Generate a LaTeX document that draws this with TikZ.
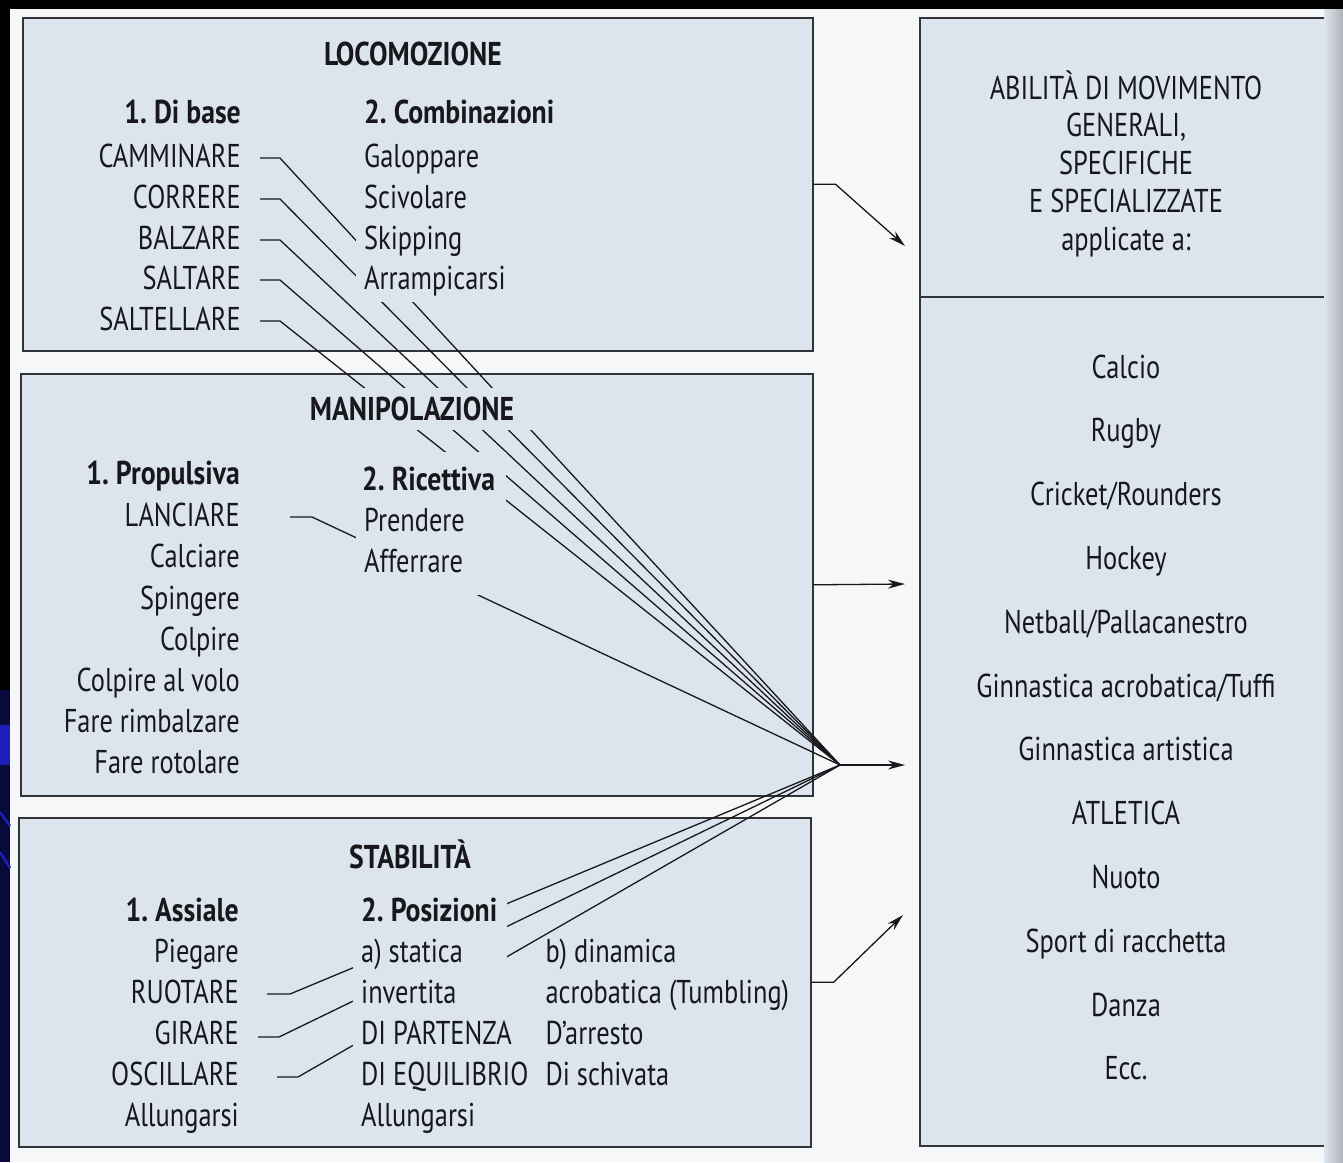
\documentclass[tikz,border=0pt]{standalone}
\usepackage{fontspec}
\setmainfont{PT Sans}[FakeStretch=0.8, BoldFeatures={FakeStretch=0.84}]
\usetikzlibrary{arrows.meta,calc}
\definecolor{pagewhite}{RGB}{246,247,248}
\definecolor{boxfill}{RGB}{220,229,238}
\definecolor{edge}{RGB}{50,52,56}
\definecolor{ink}{RGB}{24,24,28}
\definecolor{navy}{RGB}{8,10,60}
\definecolor{slideblue}{RGB}{28,30,185}
\definecolor{scanshade}{RGB}{175,178,182}
\pgfdeclarelayer{base}
\pgfdeclarelayer{wires}
\pgfsetlayers{base,wires,main}
% fixed-width, left-aligned label box (no line breaking)
\newcommand\fixw[2]{\makebox[#1][l]{#2}}

\begin{document}
\frenchspacing
\begin{tikzpicture}[x=1pt,y=-1pt,
  txt/.style={font=\fontsize{33}{38}\selectfont, text=ink},
  lbl/.style={txt, fill=boxfill, inner xsep=8pt, inner ysep=3pt, text height=27pt, text depth=10pt},
  head/.style={lbl, font=\fontsize{33}{38}\selectfont\bfseries},
  frame/.style={draw=edge, line width=1.6pt, fill=boxfill, inner sep=0pt, anchor=north west},
  wire/.style={draw=ink, line width=1.3pt},
  arr/.style={wire, -{Stealth[length=17pt,width=9pt]}},
  listitem/.style={txt, anchor=base}]
\useasboundingbox (0,0) rectangle (1343,1162);

% page, slide edges and the three group frames
\begin{pgfonlayer}{base}
  \fill[black] (0,0) rectangle (1343,1162);
  \fill[pagewhite] (10,9) rectangle (1343,1162);
  \fill[navy] (0,690) rectangle (10,1162);
  \fill[slideblue] (0,725) rectangle (10,765);
  \draw[slideblue, line width=2.5pt] (0,812) -- (10,826);
  \draw[slideblue, line width=2.5pt] (0,852) -- (10,868);
  \node[frame, minimum width=790pt, minimum height=333pt] (locobox) at (22,17) {};
  \node[frame, minimum width=792pt, minimum height=422pt] (manbox) at (20,373) {};
  \node[frame, minimum width=792pt, minimum height=329pt] (stabbox) at (18,817) {};
  % application panel
  \fill[boxfill] (920,18) rectangle (1330,1146);
  \draw[edge, line width=1.6pt] (1330,18) -- (920,18) -- (920,1146) -- (1330,1146);
  \draw[edge, line width=1.6pt] (920,297) -- (1330,297);
  \shade[left color=boxfill, right color=scanshade] (1324,9) rectangle (1343,1162);
\end{pgfonlayer}

\coordinate (hub) at (840,765);
\coordinate (tipA) at (905,246);
\coordinate (tipB) at (905,584);
\coordinate (tipC) at (905,765);
\coordinate (tipD) at (903,915);

% ---------- LOCOMOZIONE ----------
\node[head, anchor=base] (locotit) at (413,65) {LOCOMOZIONE};
\node[head, anchor=base east] (dibase) at (249,123) {1. Di base};
\node[head, anchor=base west] (comb) at (356,123) {2. Combinazioni};
\node[lbl, anchor=base east] (camm) at (249,167) {CAMMINARE};
\node[lbl, anchor=base east] (corr) at (249,208) {CORRERE};
\node[lbl, anchor=base east] (balz) at (249,249) {BALZARE};
\node[lbl, anchor=base east] (salt) at (249,289) {SALTARE};
\node[lbl, anchor=base east] (saltel) at (249,330) {SALTELLARE};
\node[lbl, anchor=base west] (galop) at (356,167) {Galoppare};
\node[lbl, anchor=base west] (sciv) at (356,208) {Scivolare};
\node[lbl, anchor=base west] (skip) at (356,249) {Skipping};
\node[lbl, anchor=base west] (arram) at (356,289) {Arrampicarsi};

% ---------- MANIPOLAZIONE ----------
\node[head, anchor=base, minimum width=240pt, text height=22pt, text depth=0pt, inner ysep=10pt] (maniptit) at (412,420) {MANIPOLAZIONE};
\node[head, anchor=base east] (propul) at (248,484) {1. Propulsiva};
\node[head, anchor=base west, text height=35pt] (ricett) at (354,490) {\fixw{136pt}{2. Ricettiva}};
\node[lbl, anchor=base east] (lanc) at (248,526) {LANCIARE};
\node[lbl, anchor=base east] (calc) at (248,567) {Calciare};
\node[lbl, anchor=base east] (sping) at (248,609) {Spingere};
\node[lbl, anchor=base east] (colp) at (248,650) {Colpire};
\node[lbl, anchor=base east] (colpv) at (248,691) {Colpire al volo};
\node[lbl, anchor=base east] (rimb) at (248,732) {Fare rimbalzare};
\node[lbl, anchor=base east] (rotol) at (248,773) {Fare rotolare};
\node[lbl, anchor=base west] (prend) at (356,531) {\fixw{108pt}{Prendere}};
\node[lbl, anchor=base west, text depth=20pt] (afferr) at (356,572) {\fixw{108pt}{Afferrare}};

% ---------- STABILITÀ ----------
\node[head, anchor=base] (stabtit) at (410,868) {STABILITÀ};
\node[head, anchor=base east] (assiale) at (247,921) {1. Assiale};
\node[head, anchor=base west] (posiz) at (353,921) {\fixw{138pt}{2. Posizioni}};
\node[lbl, anchor=base east] (pieg) at (247,962) {Piegare};
\node[lbl, anchor=base east] (ruot) at (247,1003) {RUOTARE};
\node[lbl, anchor=base east] (gir) at (247,1044) {GIRARE};
\node[lbl, anchor=base east] (oscil) at (247,1085) {OSCILLARE};
\node[lbl, anchor=base east] (allA) at (247,1126) {Allungarsi};
\node[lbl, anchor=base west] (stat) at (353,962) {\fixw{138pt}{a) statica}};
\node[lbl, anchor=base west] (invert) at (353,1003) {\fixw{138pt}{invertita}};
\node[lbl, anchor=base west] (part) at (353,1044) {\fixw{138pt}{DI PARTENZA}};
\node[lbl, anchor=base west] (equil) at (353,1085) {\fixw{138pt}{DI EQUILIBRIO}};
\node[lbl, anchor=base west] (allP) at (353,1126) {\fixw{138pt}{Allungarsi}};
\node[txt, anchor=base west] (dinam) at (542,962) {b) dinamica};
\node[txt, anchor=base west] (acrob) at (542,1003) {acrobatica (Tumbling)};
\node[txt, anchor=base west] (arrest) at (542,1044) {D’arresto};
\node[txt, anchor=base west] (schiv) at (542,1085) {Di schivata};

% ---------- application panel ----------
\foreach \t [count=\i] in {ABILITÀ DI MOVIMENTO, {GENERALI,}, SPECIFICHE, E SPECIALIZZATE, applicate a:}
  \node[listitem] (hd\i) at (1126,{99+37.75*(\i-1)}) {\t};
\foreach \t [count=\i] in {Calcio, Rugby, Cricket/Rounders, Hockey, Netball/Pallacanestro,
    Ginnastica acrobatica/Tuffi, Ginnastica artistica, ATLETICA, Nuoto,
    Sport di racchetta, Danza, Ecc.}
  \node[listitem] (app\i) at (1126,{378+63.8*(\i-1)}) {\t};

% ---------- connectors into the hub (run behind the labels) ----------
\begin{pgfonlayer}{wires}
  \foreach \n in {camm,corr,balz,salt,saltel}
    \draw[wire] ($(\n.base east)+(11,-9)$) -- ++(20,0) -- (hub);
  \draw[wire] ($(lanc.base east)+(42,-9)$) -- ++(22,0) -- (hub);
  \draw[wire] ($(ruot.base east)+(20,-9)$) -- ++(23,0) -- (hub);
  \draw[wire] ($(gir.base east)+(11,-7)$) -- ++(21,0) -- (hub);
  \draw[wire] ($(oscil.base east)+(30,-8)$) -- ++(21,0) -- (hub);
\end{pgfonlayer}

% ---------- arrows into the application panel ----------
\draw[arr] (locobox.east) -- ++(22,0) -- (tipA);
\draw[arr] (manbox.east) -- (tipB);
\draw[arr] (hub) -- (tipC);
\draw[arr] (stabbox.east) -- ++(22,0) -- (tipD);
\end{tikzpicture}
\end{document}
